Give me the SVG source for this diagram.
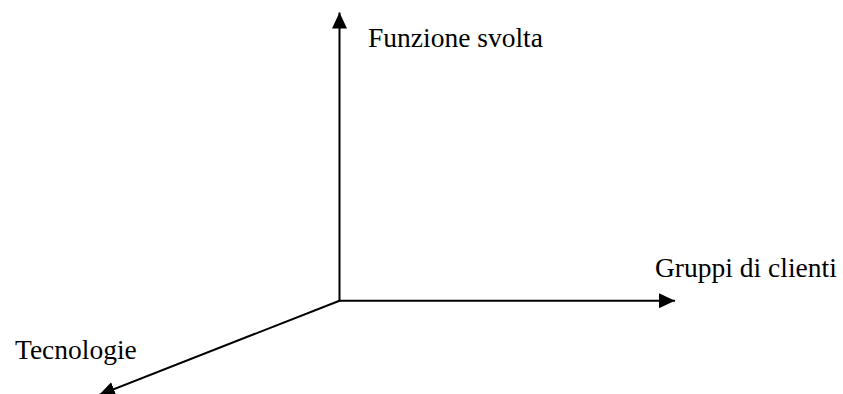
<svg xmlns="http://www.w3.org/2000/svg" width="843" height="394" viewBox="0 0 843 394">
<style>
.axis{stroke:#000;stroke-width:2;fill:none}
.lbl{font-family:"Liberation Serif","Times New Roman",serif;font-size:27.5px;fill:#000}
</style>
<defs>
<marker id="ah" viewBox="0 0 16 15" refX="16" refY="7.5" markerWidth="16" markerHeight="15" markerUnits="userSpaceOnUse" orient="auto">
<path d="M0,0 L16,7.5 L0,15 Z" fill="#000"/>
</marker>
</defs>
<rect width="843" height="394" fill="#fff"/>
<g id="connectors">
<line class="axis" x1="339.5" y1="301.5" x2="339.5" y2="12.5" marker-end="url(#ah)"/>
<line class="axis" x1="338.5" y1="300.7" x2="675" y2="300.7" marker-end="url(#ah)"/>
<line class="axis" x1="339.5" y1="300.7" x2="99" y2="395" marker-end="url(#ah)"/>
</g>
<g id="funzione"><text class="lbl" x="368" y="46.5">Funzione svolta</text></g>
<g id="gruppi"><text class="lbl" x="655" y="277">Gruppi di clienti</text></g>
<g id="tecnologie"><text class="lbl" x="15" y="359">Tecnologie</text></g>
</svg>
